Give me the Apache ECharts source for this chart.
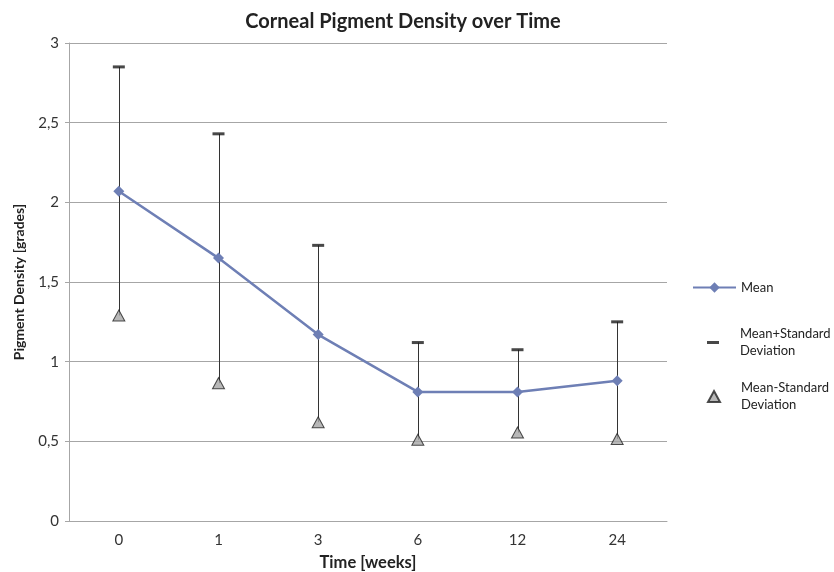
<!DOCTYPE html>
<html><head><meta charset="utf-8">
<script src="https://cdn.jsdelivr.net/npm/echarts@6/dist/echarts.min.js"></script>
<style>html,body{margin:0;padding:0;background:#fff}#c{width:834px;height:572px}</style>
</head><body><div id="c"></div>
<script>
const categories = ['0','1','3','6','12','24'];
const meanValues = [2.07, 1.65, 1.17, 0.81, 0.81, 0.88];
const plusSD = [2.85, 2.43, 1.73, 1.12, 1.075, 1.25];
const minusSD = [1.29, 0.865, 0.62, 0.51, 0.555, 0.515];

const FONT = 'Lato, "Open Sans", sans-serif';
const chart = echarts.init(document.getElementById('c'), null, {renderer:'canvas'});
const errData = categories.map((c,i)=>[i, minusSD[i], plusSD[i]]);
const legText = {fontFamily:FONT, fontSize:13, color:'#222'};
chart.setOption({
  animation:false,
  title:{text:'Corneal Pigment Density over Time', left:398, top:7, textAlign:'center',
    textStyle:{fontFamily:FONT, fontWeight:'bold', fontSize:20, color:'#222'}},
  grid:{left:69, right:167, top:43, bottom:51, containLabel:false, outerBoundsMode:'none'},
  legend:[
    {orient:'vertical', left:692, top:281, padding:0, itemWidth:43, itemHeight:13, data:['Mean'],
      textStyle:legText},
    {orient:'vertical', left:707, top:317, padding:0, itemWidth:12, itemHeight:3, data:['Mean+Standard\nDeviation'],
      textStyle:Object.assign({lineHeight:17, padding:[17,0,0,16]}, legText)},
    {orient:'vertical', left:707, top:371, padding:0, itemWidth:12, itemHeight:11, data:['Mean-Standard\nDeviation'],
      textStyle:Object.assign({lineHeight:17, padding:[17,0,0,16]}, legText)}
  ],
  xAxis:{type:'category', data:categories, boundaryGap:true,
    name:'Time [weeks]', nameLocation:'middle', nameGap:33,
    nameTextStyle:{fontFamily:FONT, fontWeight:'bold', fontSize:16.5, color:'#222'},
    axisLine:{lineStyle:{color:'#a6a6a6'}}, axisTick:{show:false},
    axisLabel:{fontFamily:FONT, fontSize:15, color:'#333', margin:12}},
  yAxis:{type:'value', min:0, max:3, interval:0.5,
    name:'Pigment Density [grades]', nameLocation:'middle', nameGap:43, nameRotate:90,
    nameTextStyle:{fontFamily:FONT, fontWeight:'bold', fontSize:14, color:'#222'},
    axisLine:{show:true, lineStyle:{color:'#a6a6a6'}}, axisTick:{show:true, length:4, lineStyle:{color:'#a6a6a6'}},
    splitLine:{lineStyle:{color:'#a6a6a6'}},
    axisLabel:{fontFamily:FONT, fontSize:15, color:'#333', margin:10,
      formatter:v=>String(v).replace('.',',')}},
  series:[
    {type:'custom', name:'err', silent:true, z:1,
      renderItem:(params, api)=>{
        const x = api.value(0);
        const lo = api.coord([x, api.value(1)]);
        const hi = api.coord([x, api.value(2)]);
        return {type:'line', shape:{x1:Math.round(lo[0])+0.5, y1:lo[1], x2:Math.round(hi[0])+0.5, y2:hi[1]},
          style:{stroke:'#333', lineWidth:1}};
      },
      encode:{x:0, y:[1,2]}, data:errData},
    {type:'line', name:'Mean', data:meanValues, symbol:'diamond', symbolSize:11, z:3,
      itemStyle:{color:'#6e7fb5'}, lineStyle:{color:'#6e7fb5', width:2.5}},
    {type:'scatter', name:'Mean+Standard\nDeviation', data:plusSD, symbol:'rect', symbolSize:[12,3], z:4,
      itemStyle:{color:'#1a1a1a'}},
    {type:'scatter', name:'Mean-Standard\nDeviation', data:minusSD, symbol:'triangle', symbolSize:[12,11], z:4,
      itemStyle:{color:'#a6a6a6', borderColor:'#222', borderWidth:1}}
  ]
});
</script></body></html>
